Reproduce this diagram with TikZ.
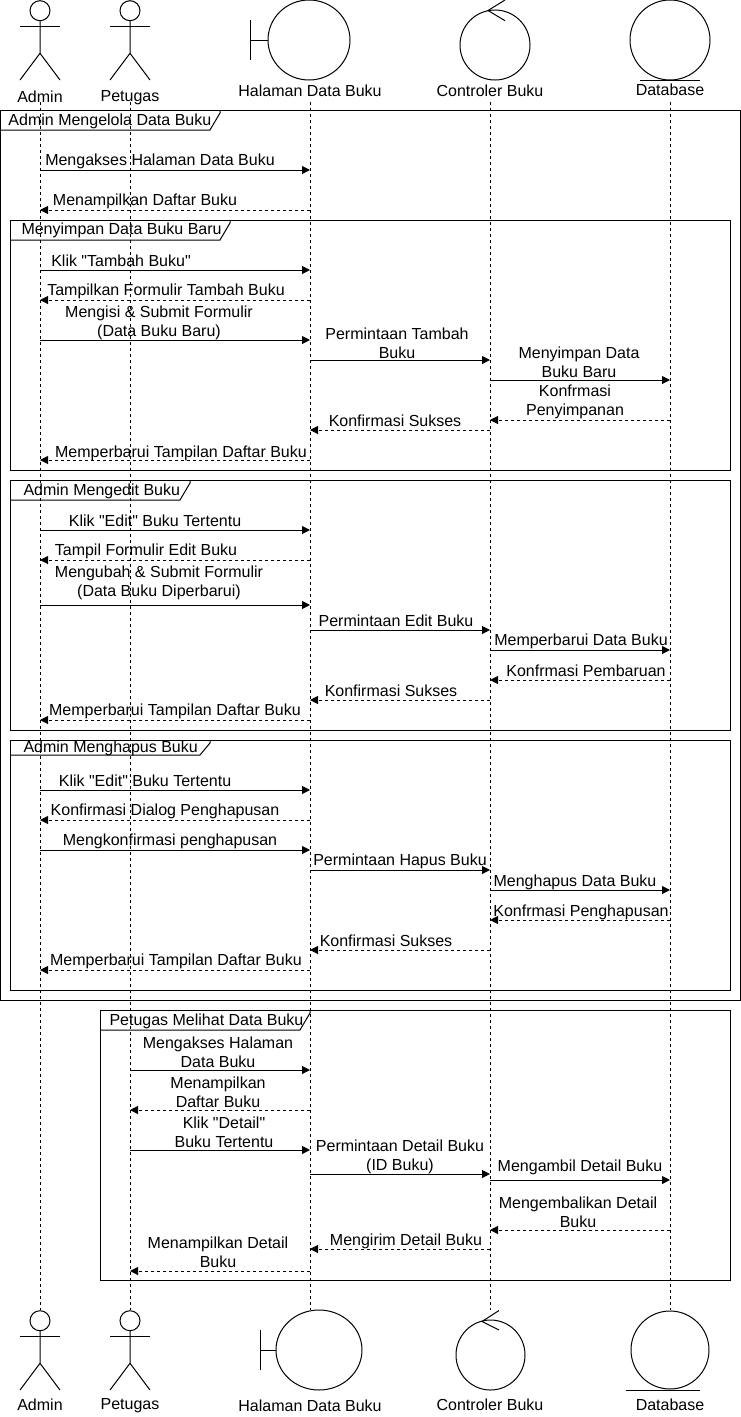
\documentclass[tikz,border=0pt]{standalone}
\usepackage{fontspec}
\setmainfont{Liberation Sans}
\usetikzlibrary{arrows.meta}

\begin{document}
\begin{tikzpicture}[x=1pt, y=-1pt, line width=1pt]
\tikzstyle{every node}=[font=\fontsize{16}{19}\selectfont, inner sep=0pt, align=center];
\tikzstyle{life}=[dash pattern=on 3pt off 3pt];
\tikzstyle{call}=[-{Triangle[length=8pt,width=8pt]}];
\tikzstyle{reply}=[call, dash pattern=on 3pt off 3pt];
\tikzset{stick/.pic={
  \draw (0,10.7) circle (10);
  \draw (-20,26.7) -- (20,26.7);
  \draw (0,20.7) -- (0,53.3) -- (-20,80) (0,53.3) -- (20,80);
}}
\useasboundingbox (0,0) rectangle (741,1417);

% lifeline positions
\coordinate (adm) at (40,0);
\coordinate (pet) at (130,0);
\coordinate (hal) at (310,0);
\coordinate (ctl) at (490,0);
\coordinate (db) at (670,0);

% heads on top
\pic at (40,0) {stick};
\pic at (130,0) {stick};
\draw (309,40) ellipse [x radius=41, y radius=40];
\draw (250,20) -- (250,60) (250,40) -- (268,40);
\draw (495,45) circle (35);
\draw (505,0) -- (488,10.5) -- (505,20.7);
\draw (670,40) circle (40);
\draw (640,80) -- (700,80);
\node (admTop) at (40,97) {Admin};
\node (petTop) at (130,98) {Petugas};
\node (halTop) at (310,91) {Halaman Data Buku};
\node (ctlTop) at (490,91) {Controler Buku};
\node (dbTop) at (670,90) {Database};

% heads at the bottom
\pic at (40,1310) {stick};
\pic at (130,1310) {stick};
\draw (319,1350) ellipse [x radius=43, y radius=40];
\draw (260,1330) -- (260,1370) (260,1350) -- (276,1350);
\draw (490.5,1355) ellipse [x radius=34.5, y radius=35];
\draw (499,1310.5) -- (482,1321.5) -- (499,1330);
\draw (670,1350) circle (39);
\draw (626,1390) -- (700,1390);
\node (admBot) at (40,1405) {Admin};
\node (petBot) at (130,1406) {Petugas};
\node (halBot) at (310,1406) {Halaman Data Buku};
\node (ctlBot) at (490,1405) {Controler Buku};
\node (dbBot) at (670,1405) {Database};

\foreach \l in {adm,pet,hal,ctl,db}
  \draw[life] (\l |- 0,102) -- (\l |- 0,1310);

% frames
\draw (0,110) rectangle (740,1000);
\draw (0,130) -- (210,130) -- (220,113) -- (220,110);
\node[anchor=west] (f1) at (8,121) {Admin Mengelola Data Buku};
\draw (10,220) rectangle (730,470);
\draw (10,240) -- (220,240) -- (230,223) -- (230,220);
\node[anchor=west] (f2) at (21,230) {Menyimpan Data Buku Baru};
\draw (10,480) rectangle (730,730);
\draw (10,500) -- (180,500) -- (190,483) -- (190,480);
\node[anchor=west] (f3) at (23,491) {Admin Mengedit Buku};
\draw (10,740) rectangle (730,990);
\draw (10,755) -- (200,755) -- (210,743) -- (210,740);
\node[anchor=west] (f4) at (23,748) {Admin Menghapus Buku};
\draw (100,1010) rectangle (730,1280);
\draw (100,1030) -- (300,1030) -- (310,1013) -- (310,1010);
\node[anchor=west] (f5) at (109,1021) {Petugas Melihat Data Buku};

% messages
\foreach \y/\a/\b/\s/\lx/\ly/\t [count=\i] in {
  170/adm/hal/call/160/161/{Mengakses Halaman Data Buku},
  210/hal/adm/reply/145/201/{Menampilkan Daftar Buku},
  270/adm/hal/call/121/261/{Klik \textquotedbl Tambah Buku\textquotedbl},
  300/hal/adm/reply/166/291/{Tampilkan Formulir Tambah Buku},
  340/adm/hal/call/159/323/{Mengisi \& Submit Formulir\\(Data Buku Baru)},
  360/hal/ctl/call/397/343/{Permintaan Tambah\\Buku},
  380/ctl/db/call/579/362/{Menyimpan Data\\Buku Baru},
  420/db/ctl/reply/575/402/{Konfrmasi\\Penyimpanan},
  430/ctl/hal/reply/395/421/{Konfirmasi Sukses},
  460/hal/adm/reply/181/453/{Memperbarui Tampilan Daftar Buku},
  530/adm/hal/call/155/521/{Klik \textquotedbl Edit\textquotedbl{} Buku Tertentu},
  560/hal/adm/reply/146/551/{Tampil Formulir Edit Buku},
  605/adm/hal/call/159/583/{Mengubah \& Submit Formulir\\(Data Buku Diperbarui)},
  630/hal/ctl/call/396/621/{Permintaan Edit Buku},
  650/ctl/db/call/581/641/{Memperbarui Data Buku},
  680/db/ctl/reply/586/671/{Konfrmasi Pembaruan},
  700/ctl/hal/reply/391/691/{Konfirmasi Sukses},
  720/hal/adm/reply/175/711/{Memperbarui Tampilan Daftar Buku},
  790/adm/hal/call/145/781/{Klik \textquotedbl Edit\textquotedbl{} Buku Tertentu},
  820/hal/adm/reply/165/811/{Konfirmasi Dialog Penghapusan},
  850/adm/hal/call/170/841/{Mengkonfirmasi penghapusan},
  870/hal/ctl/call/400/861/{Permintaan Hapus Buku},
  890/ctl/db/call/575/882/{Menghapus Data Buku},
  920/db/ctl/reply/581/912/{Konfrmasi Penghapusan},
  950/ctl/hal/reply/386/941/{Konfirmasi Sukses},
  970/hal/adm/reply/176/961/{Memperbarui Tampilan Daftar Buku},
  1070/pet/hal/call/218/1052/{Mengakses Halaman\\Data Buku},
  1110/hal/pet/reply/218/1092/{Menampilkan\\Daftar Buku},
  1150/pet/hal/call/224/1132/{Klik \textquotedbl Detail\textquotedbl\\Buku Tertentu},
  1174/hal/ctl/call/400/1157/{Permintaan Detail Buku\\(ID Buku)},
  1180/ctl/db/call/580/1167/{Mengambil Detail Buku},
  1230/db/ctl/reply/578/1212/{Mengembalikan Detail\\Buku},
  1249/ctl/hal/reply/406/1241/{Mengirim Detail Buku},
  1271/hal/pet/reply/218/1252/{Menampilkan Detail\\Buku}}
{
  \draw[\s] (\a |- 0,\y) -- (\b |- 0,\y);
  \node (m\i) at (\lx,\ly) {\t};
}
\end{tikzpicture}
\end{document}
